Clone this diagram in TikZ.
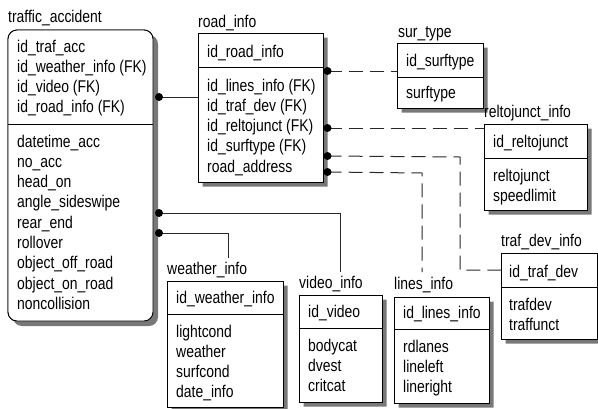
\documentclass[tikz,border=0pt]{standalone}
\usepackage{fontspec}
\setmainfont[FakeStretch=0.82]{Liberation Sans}
\definecolor{shadowgray}{RGB}{120,120,120}
\definecolor{linkgray}{RGB}{40,40,40}
\begin{document}
\begin{tikzpicture}[x=1pt,y=-1pt,
  tbl/.style={draw=black, line width=0.9pt, fill=white, anchor=north west,
    inner sep=0pt, outer sep=0pt},
  shadowrim/.style={fill=shadowgray, even odd rule},
  cover/.style={draw=black, line width=0.9pt, fill=white},
  fld/.style={anchor=base west, inner sep=0pt, font=\fontsize{17}{20}\selectfont},
  dot/.style={circle, fill=black, inner sep=0pt, minimum size=8pt},
  rel/.style={line width=1pt, draw=linkgray},
  opt/.style={rel, dash pattern=on 14pt off 7pt},
  sep/.style={line width=0.9pt}]
\useasboundingbox (0,0) rectangle (598,408);

% ---- entity boxes ----
\node[tbl, rounded corners=9pt, minimum width=145pt, minimum height=291pt] (ta) at (8,30) {};
\node[tbl, minimum width=125pt, minimum height=149pt] (road) at (198,33) {};
\node[tbl, minimum width=86pt,  minimum height=65pt]  (sur)  at (397,43) {};
\node[tbl, minimum width=103pt, minimum height=86pt]  (rel)  at (484,124) {};
\node[tbl, minimum width=96pt,  minimum height=86pt]  (tdev) at (501,253) {};
\node[tbl, minimum width=95pt,  minimum height=106pt] (lin)  at (394,297) {};
\node[tbl, minimum width=116pt, minimum height=126pt] (wea)  at (167,281) {};
\node[tbl, minimum width=83pt,  minimum height=107pt] (vid)  at (299,295) {};

% ---- drop shadows: offset outline against the box outline ----
\fill[shadowrim, rounded corners=9pt]
  ([shift={(5pt,-5pt)}]ta.south west) rectangle ([shift={(5pt,-5pt)}]ta.north east)
  (ta.south west) rectangle (ta.north east);
\foreach \b in {road,sur,rel,tdev,lin,wea,vid}
  \fill[shadowrim]
    ([shift={(4.5pt,-4.5pt)}]\b.south west) rectangle ([shift={(4.5pt,-4.5pt)}]\b.north east)
    (\b.south west) rectangle (\b.north east);

% ---- box faces drawn again over the inner part of the shadows ----
\path[cover, rounded corners=9pt] (ta.south west) rectangle (ta.north east);
\foreach \b in {road,sur,rel,tdev,lin,wea,vid}
  \path[cover] (\b.south west) rectangle (\b.north east);

% ---- key / attribute separators ----
\draw[sep] (ta.west |- 0,124)   -- (ta.east |- 0,124);
\draw[sep] (road.west |- 0,67)  -- (road.east |- 0,67);
\draw[sep] (sur.west |- 0,77)   -- (sur.east |- 0,77);
\draw[sep] (rel.west |- 0,158)  -- (rel.east |- 0,158);
\draw[sep] (tdev.west |- 0,287) -- (tdev.east |- 0,287);
\draw[sep] (lin.west |- 0,329)  -- (lin.east |- 0,329);
\draw[sep] (wea.west |- 0,314)  -- (wea.east |- 0,314);
\draw[sep] (vid.west |- 0,328)  -- (vid.east |- 0,328);

% ---- titles ----
\node[fld] (ta-t)   at (8,22)    {traffic\_accident};
\node[fld] (road-t) at (198,27)  {road\_info};
\node[fld] (sur-t)  at (398,37)  {sur\_type};
\node[fld] (rel-t)  at (484,117) {reltojunct\_info};
\node[fld] (tdev-t) at (501,246) {traf\_dev\_info};
\node[fld] (lin-t)  at (394,289) {lines\_info};
\node[fld] (wea-t)  at (167,274) {weather\_info};
\node[fld] (vid-t)  at (299,288) {video\_info};

% ---- fields ----
\foreach \t [count=\k] in {id\_traf\_acc, id\_weather\_info (FK), id\_video (FK), id\_road\_info (FK)}
  \node[fld] (ta-k\k) at (17,{52+20.3*(\k-1)}) {\t};
\foreach \t [count=\k] in {datetime\_acc, no\_acc, head\_on, angle\_sideswipe, rear\_end,
    rollover, object\_off\_road, object\_on\_road, noncollision}
  \node[fld] (ta-a\k) at (17,{147+20.3*(\k-1)}) {\t};

\node[fld] (road-k1) at (207,57) {id\_road\_info};
\foreach \t [count=\k] in {id\_lines\_info (FK), id\_traf\_dev (FK), id\_reltojunct (FK),
    id\_surftype (FK), road\_address}
  \node[fld] (road-a\k) at (207,{91+20.3*(\k-1)}) {\t};

\node[fld] (sur-k1) at (406,66) {id\_surftype};
\node[fld] (sur-a1) at (406,98) {surftype};

\node[fld] (rel-k1) at (493,147) {id\_reltojunct};
\foreach \t [count=\k] in {reltojunct, speedlimit}
  \node[fld] (rel-a\k) at (493,{181+20.3*(\k-1)}) {\t};

\node[fld] (tdev-k1) at (509,277) {id\_traf\_dev};
\foreach \t [count=\k] in {trafdev, traffunct}
  \node[fld] (tdev-a\k) at (509,{310+20.3*(\k-1)}) {\t};

\node[fld] (lin-k1) at (403,318) {id\_lines\_info};
\foreach \t [count=\k] in {rdlanes, lineleft, lineright}
  \node[fld] (lin-a\k) at (403,{352+20.3*(\k-1)}) {\t};

\node[fld] (wea-k1) at (176,303) {id\_weather\_info};
\foreach \t [count=\k] in {lightcond, weather, surfcond, date\_info}
  \node[fld] (wea-a\k) at (176,{337+20.3*(\k-1)}) {\t};

\node[fld] (vid-k1) at (308,317) {id\_video};
\foreach \t [count=\k] in {bodycat, dvest, critcat}
  \node[fld] (vid-a\k) at (308,{351+20.3*(\k-1)}) {\t};

% ---- relationship end points ----
\coordinate (d1) at (159,97);
\coordinate (d2) at (159,213);
\coordinate (d3) at (159,233);
\coordinate (r1) at (327.5,71);
\coordinate (r2) at (327.5,128);
\coordinate (r3) at (327.5,156);
\coordinate (r4) at (327.5,172);
\coordinate (vidin) at (340,272);
\coordinate (weain) at (228,258);
\coordinate (linin) at (422,272);

% identifying relationships (solid)
\draw[rel] (d1) -- (road.west |- d1);
\draw[rel] (d2) -| (vidin);
\draw[rel] (d3) -| (weain);

% non-identifying relationships (dashed)
\draw[opt] (r1) -- (sur.west |- r1);
\draw[opt] (r2) -- (rel.west |- r2);
\draw[opt] (r3) -- (460,157) |- (tdev.west |- 0,270);
\draw[opt] (r4) -- (422,173) -- (linin);

% many-side dots
\foreach \p in {d1,d2,d3,r1,r2,r3,r4}
  \node[dot] (dot-\p) at (\p) {};
\end{tikzpicture}
\end{document}
